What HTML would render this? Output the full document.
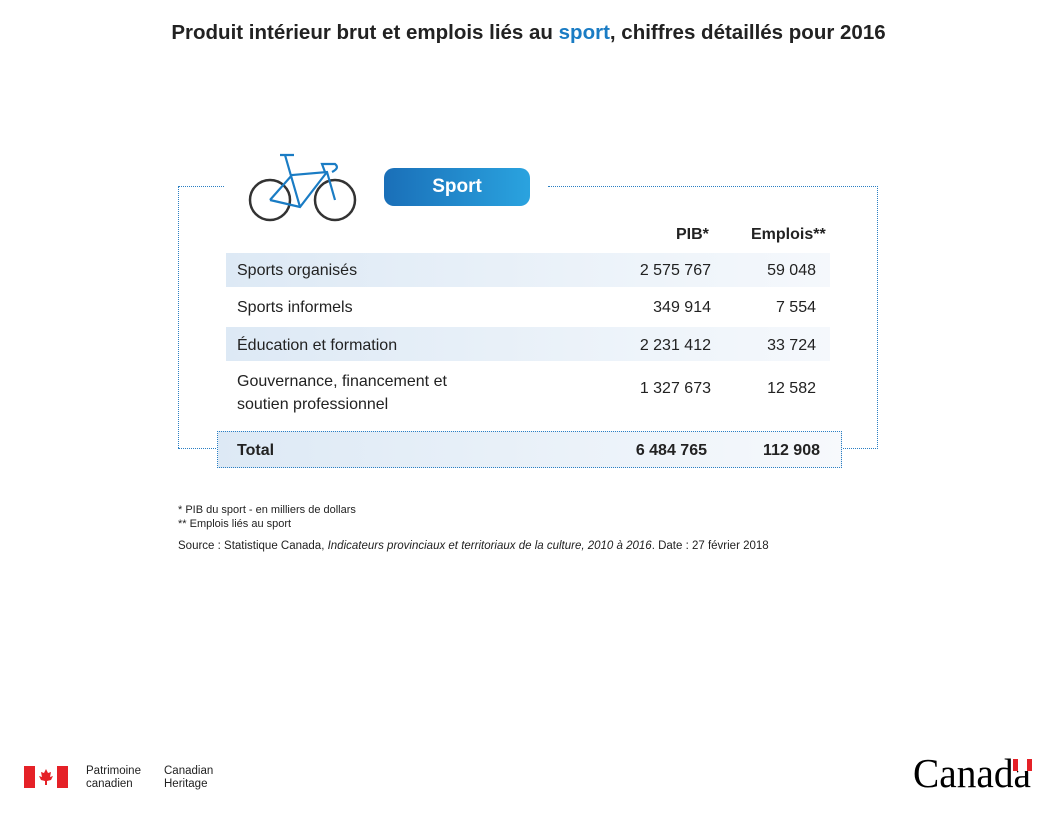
<!DOCTYPE html>
<html><head><meta charset="utf-8"><style>
body{margin:0;width:1057px;height:816px;background:#fff;position:relative;font-family:"Liberation Sans",sans-serif;color:#222;overflow:hidden}
.a{position:absolute;white-space:nowrap}
.row{position:absolute;left:226px;width:604px;background:linear-gradient(90deg,#dde9f5,#eef4fa 70%,#f5f8fc)}
.t{font-size:16px}
.r{text-align:right}
</style></head><body>
<div class="a" style="left:0;width:1057px;top:21px;text-align:center;font-size:20.5px;font-weight:bold;color:#222">Produit intérieur brut et emplois liés au <span style="color:#1a7cc4">sport</span>, chiffres détaillés pour 2016</div>

<div class="a" style="left:178px;top:186px;width:46px;border-top:1.5px dotted #2b7fc3"></div>
<div class="a" style="left:548px;top:186px;width:330px;border-top:1.5px dotted #2b7fc3"></div>
<div class="a" style="left:178px;top:186px;height:262px;border-left:1.5px dotted #2b7fc3"></div>
<div class="a" style="left:178px;top:448px;width:40px;border-top:1.5px dotted #2b7fc3"></div>
<div class="a" style="left:840px;top:448px;width:38px;border-top:1.5px dotted #2b7fc3"></div>
<div class="a" style="left:877px;top:186px;height:263px;border-left:1.5px dotted #2b7fc3"></div>

<svg class="a" style="left:240px;top:150px" width="125" height="75" viewBox="0 0 125 75">
<circle cx="30" cy="50" r="20" fill="none" stroke="#333" stroke-width="2.5"/>
<circle cx="95" cy="50" r="20" fill="none" stroke="#333" stroke-width="2.5"/>
<g fill="none" stroke="#1a7cc4" stroke-width="2.2">
<path d="M30 50 L52 25 L87 22 L95 50 M30 50 L60 57 L87 22 M60 57 L45 5 M40 5 L54 5 M85 22 L82 14 L95 14 Q100 18 92 22"/>
</g></svg>

<div class="a" style="left:384px;top:168px;width:146px;height:38px;border-radius:10px;background:linear-gradient(90deg,#1a6fb8,#2aa3df);color:#fff;font-size:19px;font-weight:bold;text-align:center;line-height:38px">Sport</div>

<div class="a t" style="left:676px;top:226px;font-weight:bold">PIB*</div>
<div class="a t" style="left:751px;top:226px;font-weight:bold">Emplois**</div>

<div class="row" style="top:253px;height:34px"></div>
<div class="row" style="top:327px;height:34px"></div>
<div class="a t" style="left:237px;top:262px">Sports organisés</div>
<div class="a t r" style="left:600px;width:111px;top:262px">2 575 767</div>
<div class="a t r" style="left:740px;width:76px;top:262px">59 048</div>
<div class="a t" style="left:237px;top:299px">Sports informels</div>
<div class="a t r" style="left:600px;width:111px;top:299px">349 914</div>
<div class="a t r" style="left:740px;width:76px;top:299px">7 554</div>
<div class="a t" style="left:237px;top:337px">Éducation et formation</div>
<div class="a t r" style="left:600px;width:111px;top:337px">2 231 412</div>
<div class="a t r" style="left:740px;width:76px;top:337px">33 724</div>
<div class="a t" style="left:237px;top:370px;line-height:23px">Gouvernance, financement et<br>soutien professionnel</div>
<div class="a t r" style="left:600px;width:111px;top:380px">1 327 673</div>
<div class="a t r" style="left:740px;width:76px;top:380px">12 582</div>

<div class="a" style="left:217px;top:431px;width:623px;height:35px;border:1.5px dotted #2b7fc3;background:linear-gradient(90deg,#dde9f5,#eef4fa 70%,#f7f9fc)"></div>
<div class="a t" style="left:237px;top:442px;font-weight:bold">Total</div>
<div class="a t r" style="left:600px;width:107px;top:442px;font-weight:bold">6 484 765</div>
<div class="a t r" style="left:740px;width:80px;top:442px;font-weight:bold">112 908</div>

<div class="a" style="left:178px;top:504px;font-size:11px">* PIB du sport - en milliers de dollars</div>
<div class="a" style="left:178px;top:518px;font-size:11px">** Emplois liés au sport</div>
<div class="a" style="left:178px;top:540px;font-size:11.5px">Source : Statistique Canada, <i>Indicateurs provinciaux et territoriaux de la culture, 2010 à 2016</i>. Date : 27 février 2018</div>

<div class="a" style="left:24px;top:766px;width:44px;height:22px;background:#e52127"></div>
<div class="a" style="left:35px;top:766px;width:22px;height:22px;background:#fff"><svg width="22" height="22"><path d="M11 3 L13 7 L16 6 L15 11 L18 10 L16 14 L12 15 L12 19 L10 19 L10 15 L6 14 L4 10 L7 11 L6 6 L9 7Z" fill="#e52127"/></svg></div>
<div class="a" style="left:86px;top:765px;font-size:11.5px;line-height:13px">Patrimoine<br>canadien</div>
<div class="a" style="left:164px;top:765px;font-size:11.5px;line-height:13px">Canadian<br>Heritage</div>
<div class="a" style="left:913px;top:750px;font-family:'Liberation Serif',serif;font-size:41px;line-height:46px;color:#000;transform:scaleX(0.96);transform-origin:left top">Canada</div>
<div class="a" style="left:1013px;top:759px;width:19px;height:12px;background:#e52127"><div style="margin:0 auto;width:9px;height:12px;background:#fff"></div></div>
</body></html>
